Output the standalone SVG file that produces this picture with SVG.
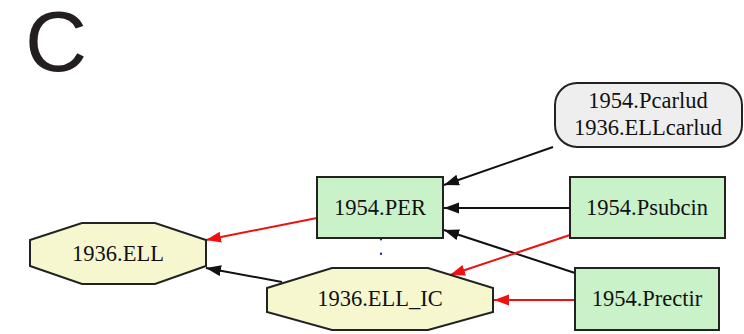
<svg xmlns="http://www.w3.org/2000/svg" width="744" height="334" viewBox="0 0 744 334">
<style>
.lbl{font-family:"Liberation Serif","Times New Roman",serif;font-size:22.5px;fill:#111;text-anchor:middle}
.box{fill:#c9f2c9;stroke:#222;stroke-width:2}
.oct{fill:#f7f7cf;stroke:#222;stroke-width:2}
.e{fill:none;stroke-width:2}
.blk{stroke:#111}
.red{stroke:#f01010}
</style>
<defs>
<marker id="ab" markerUnits="userSpaceOnUse" markerWidth="16" markerHeight="12" refX="15" refY="5.5" orient="auto"><path d="M0,0 L15,5.5 L0,11 z" fill="#111"/></marker>
<marker id="ar" markerUnits="userSpaceOnUse" markerWidth="16" markerHeight="12" refX="15" refY="5.5" orient="auto"><path d="M0,0 L15,5.5 L0,11 z" fill="#f01010"/></marker>
</defs>
<rect width="744" height="334" fill="#fff"/>
<text x="25" y="71" font-family="Liberation Sans,Arial,sans-serif" font-size="86" fill="#231f20">C</text>
<g id="edges">
<line class="e blk" x1="553" y1="147" x2="444" y2="185" marker-end="url(#ab)"/>
<line class="e blk" x1="570" y1="208" x2="444" y2="208" marker-end="url(#ab)"/>
<line class="e blk" x1="575" y1="273" x2="444" y2="230" marker-end="url(#ab)"/>
<line class="e red" x1="317" y1="218" x2="206" y2="240" marker-end="url(#ar)"/>
<line class="e blk" x1="282" y1="282" x2="206" y2="268" marker-end="url(#ab)"/>
<line class="e red" x1="570" y1="235" x2="450" y2="275" marker-end="url(#ar)"/>
<line class="e red" x1="575" y1="300" x2="494" y2="300" marker-end="url(#ar)"/>
<line x1="381" y1="239" x2="381" y2="268" stroke="#1020e0" stroke-width="2.2" stroke-linecap="round" stroke-dasharray="0.5,14"/>
</g>
<g id="n_pcarlud">
<rect x="555" y="83" width="187" height="64" rx="22" fill="#eeeeee" stroke="#222" stroke-width="2"/>
<text class="lbl" x="648" y="108">1954.Pcarlud</text>
<text class="lbl" x="648" y="135">1936.ELLcarlud</text>
</g>
<g id="n_per">
<rect class="box" x="317" y="177" width="126" height="61"/>
<text class="lbl" x="380" y="215">1954.PER</text>
</g>
<g id="n_psubcin">
<rect class="box" x="570" y="177" width="155" height="61"/>
<text class="lbl" x="647" y="215">1954.Psubcin</text>
</g>
<g id="n_prectir">
<rect class="box" x="575" y="268" width="144" height="62"/>
<text class="lbl" x="647" y="306">1954.Prectir</text>
</g>
<g id="n_ell">
<polygon class="oct" points="30,240 82,223 155,223 206,240 206,266 155,284 82,284 30,266"/>
<text class="lbl" x="118" y="261">1936.ELL</text>
</g>
<g id="n_ell_ic">
<polygon class="oct" points="267,288 332,268 428,268 493,288 493,312 428,330 332,330 267,312"/>
<text class="lbl" x="380" y="306">1936.ELL_IC</text>
</g>
</svg>
